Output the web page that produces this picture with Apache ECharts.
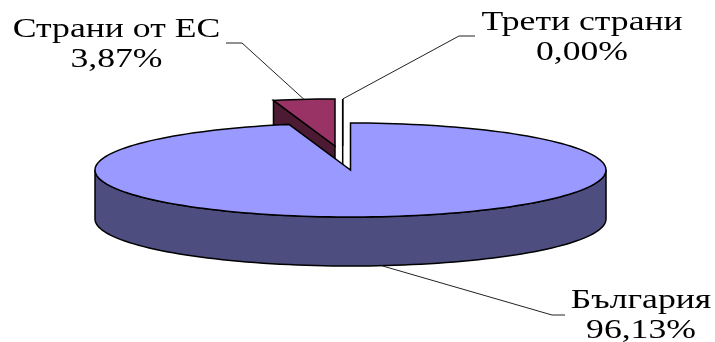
<!DOCTYPE html>
<html>
<head>
<meta charset="utf-8">
<style>html,body{margin:0;background:#fff}#main{width:715px;height:342px}</style>
<script src="https://cdn.jsdelivr.net/npm/echarts@6/dist/echarts.min.js"></script>
</head>
<body>
<div id="main"></div>
<script>
var categories = ['България', 'Страни от ЕС', 'Трети страни']
var values = [96.13, 3.87, 0]
var topColors = ['#9999ff', '#993366', '#ffffff']
var wallColors = ['#4d4d80', '#4d1a33', '#808080']

// pie geometry, slices are exploded by their own centre
var rx = 255.5, ry = 47, depth = 49
var centers = [[350.5, 170], [335, 146], [342.7, 146]]
// where the leader line bends and where the text sits
var elbows = [[552, 315], [242, 43], [459, 36]]
var ends = [[565, 315], [226, 43], [475, 36]]
var labelPos = [[641, 286], [116.5, 15], [582, 8]]

var total = values.reduce(function (a, b) { return a + b }, 0)
var starts = []
var sum = 0
values.forEach(function (v) { starts.push(sum / total * 360); sum += v })

function pt(c, deg, dy) {
  var a = deg * Math.PI / 180
  return [c[0] + rx * Math.sin(a), c[1] - ry * Math.cos(a) + (dy || 0)]
}
function arc(c, from, to, dy) {
  var pts = []
  var n = Math.max(1, Math.ceil(Math.abs(to - from) / 2))
  for (var i = 0; i <= n; i++) pts.push(pt(c, from + (to - from) * i / n, dy))
  return pts
}

function renderItem(params, api) {
  var i = api.value(0)
  var c = centers[i]
  var from = starts[i]
  var to = from + values[i] / total * 360
  var style = { fill: topColors[i], stroke: '#000', lineWidth: 1.5 }
  var wall = { fill: wallColors[i], stroke: '#000', lineWidth: 1.5 }
  var kids = []
  // side wall of the cut on the left side of a slice
  if (i > 0) {
    var r = pt(c, from)
    kids.push({ type: 'polygon', shape: { points: [c, r, [r[0], r[1] + depth], [c[0], c[1] + depth]] }, style: wall })
  }
  // rim, only the part facing the viewer
  var f = Math.max(from, 90), t = Math.min(to, 270)
  if (t > f) {
    var rim = arc(c, f, t).concat(arc(c, t, f, depth))
    kids.push({ type: 'polygon', shape: { points: rim }, style: wall })
  }
  // top
  var top = [c].concat(arc(c, from, to))
  kids.push({ type: 'polygon', shape: { points: top }, style: style })
  // leader
  var m = (from + to) / 2
  var mid = pt(c, m, m > 90 && m < 270 ? depth : 0)
  kids.push({
    type: 'polyline',
    shape: { points: [mid, elbows[i], ends[i]] },
    style: { fill: null, stroke: '#222', lineWidth: 1 },
    z2: 5
  })
  kids.push({
    type: 'text',
    x: labelPos[i][0],
    y: labelPos[i][1],
    scaleX: 1.32,
    z2: 6,
    style: {
      text: categories[i] + '\n' + values[i].toFixed(2).replace('.', ',') + '%',
      font: '27px "Liberation Serif"',
      fill: '#000',
      align: 'center',
      lineHeight: 30
    }
  })
  return { type: 'group', children: kids }
}

var chart = echarts.init(document.getElementById('main'))
// draw the exploded slices first, the big one covers them
var order = [1, 2, 0]
chart.setOption({
  animation: false,
  backgroundColor: '#fff',
  series: [{
    type: 'custom',
    coordinateSystem: 'none',
    silent: true,
    renderItem: renderItem,
    data: order.map(function (i) { return [i, values[i]] }),
    encode: { value: 1 }
  }]
})
</script>
</body>
</html>
